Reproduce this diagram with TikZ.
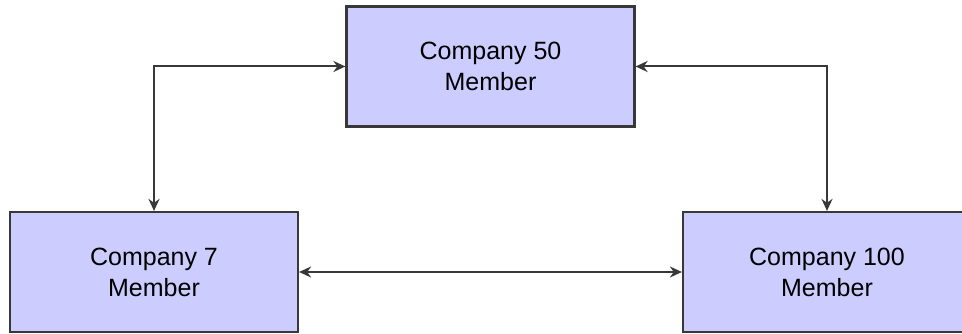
\documentclass[tikz,border=0pt]{standalone}
\usepackage{fontspec}
\setmainfont{Liberation Sans}
\usetikzlibrary{arrows.meta}
\definecolor{boxfill}{HTML}{CCCCFF}
\definecolor{edge}{HTML}{383838}
\begin{document}
\begin{tikzpicture}[x=1pt,y=1pt,
  member/.style={draw=edge, line width=2.2pt, fill=boxfill, minimum width=288pt,
    minimum height=120pt, inner sep=0pt, align=center,
    font=\fontsize{25}{31}\selectfont, text=black},
  link/.style={draw=edge, line width=2pt,
    {Stealth[length=12pt,width=11pt]}-{Stealth[length=12pt,width=11pt]}}]
  \useasboundingbox (0,0) rectangle (962,334);
  \clip (0,0) rectangle (962,334);
  \node[member] (c50) at (490.5,267.5) {Company 50\\Member};
  \node[member] (c7) at (154,62) {Company 7\\Member};
  \node[member] (c100) at (827,62) {Company 100\\Member};
  \draw[link] (c50.west) -| (c7.north);
  \draw[link] (c50.east) -| (c100.north);
  \draw[link] (c7.east) -- (c100.west);
\end{tikzpicture}
\end{document}
